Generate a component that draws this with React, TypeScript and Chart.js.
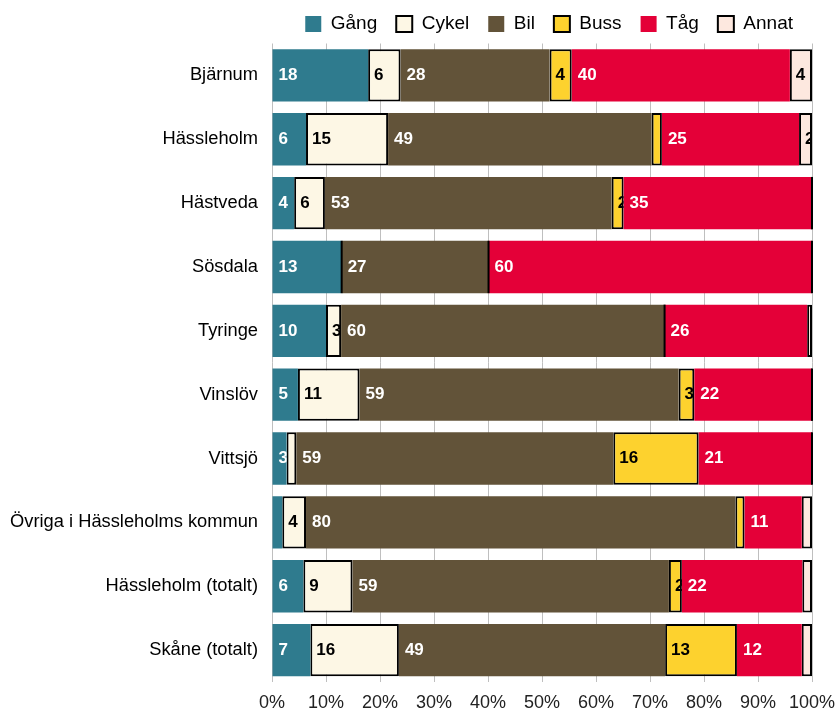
import React, { useEffect, useRef } from "react";
import { Chart, registerables } from "chart.js";

Chart.register(...registerables);

const categories = [
  "Bjärnum",
  "Hässleholm",
  "Hästveda",
  "Sösdala",
  "Tyringe",
  "Vinslöv",
  "Vittsjö",
  "Övriga i Hässleholms kommun",
  "Hässleholm (totalt)",
  "Skåne (totalt)",
];

const seriesNames = ["Gång", "Cykel", "Bil", "Buss", "Tåg", "Annat"];

const gang = [17.8, 6.3, 4.1, 12.9, 10.0, 4.8, 2.7, 1.9, 5.8, 7.1];
const cykel = [6.0, 15.2, 5.7, 0, 2.8, 11.4, 1.8, 4.4, 9.1, 16.4];
const bil = [27.6, 48.8, 53.1, 27.2, 59.9, 59.1, 58.7, 79.5, 58.6, 49.3];
const buss = [4.1, 1.9, 2.2, 0, 0, 2.9, 15.8, 1.7, 2.4, 13.3];
const tag = [40.4, 25.4, 34.9, 59.9, 26.4, 21.8, 21.0, 10.6, 22.3, 12.0];
const annat = [4.1, 2.4, 0, 0, 0.9, 0, 0, 1.9, 1.8, 1.9];

const xTickValues = [0, 10, 20, 30, 40, 50, 60, 70, 80, 90, 100];

const seriesValues = [gang, cykel, bil, buss, tag, annat];
const fillColors = ["#2F7B8E", "#FDF7E5", "#625339", "#FDD22E", "#E40038", "#FDE8DF"];
const lightSeries = [false, true, false, true, false, true];

const FONT = "'Liberation Sans', Arial, Helvetica, sans-serif";

const labelPlugin = {
  id: "segmentLabels",
  afterDatasetsDraw(chart: any) {
    const ctx = chart.ctx;
    chart.data.datasets.forEach((ds: any, di: number) => {
      const meta = chart.getDatasetMeta(di);
      const light = lightSeries[di];
      meta.data.forEach((el: any, i: number) => {
        const v = ds.data[i];
        const { x, y, base, height } = el.getProps(["x", "y", "base", "height"], true);
        if (v === 0) {
          if (light) {
            ctx.save();
            ctx.fillStyle = "#000";
            ctx.fillRect(x - 1, y - height / 2, 2, height);
            ctx.restore();
          }
          return;
        }
        if (v < 2) return;
        ctx.save();
        ctx.beginPath();
        const left = Math.min(x, base);
        const w = Math.abs(x - base);
        ctx.rect(left, y - height / 2, w, height);
        ctx.clip();
        ctx.font = `bold 17px ${FONT}`;
        ctx.fillStyle = light ? "#000" : "#fff";
        ctx.textAlign = "left";
        ctx.textBaseline = "middle";
        ctx.fillText(String(Math.round(v)), left + 6, y);
        ctx.restore();
      });
    });
  },
};

export default function App() {
  const ref = useRef<HTMLCanvasElement | null>(null);

  useEffect(() => {
    if (!ref.current) return;
    const chart = new Chart(ref.current, {
      type: "bar",
      data: {
        labels: categories,
        datasets: seriesNames.map((name, i) => ({
          label: name,
          data: seriesValues[i],
          backgroundColor: fillColors[i],
          borderColor: lightSeries[i] ? "#000" : fillColors[i],
          borderWidth: lightSeries[i] ? 2 : 0,
          borderSkipped: false,
          barPercentage: 0.82,
          categoryPercentage: 1,
        })),
      },
      options: {
        indexAxis: "y",
        responsive: false,
        animation: false,
        layout: { padding: { top: -4.5, right: 26, bottom: 0, left: 0 } },
        plugins: {
          legend: {
            position: "top",
            align: "end",
            labels: {
              boxWidth: 16,
              boxHeight: 16,
              padding: 19,
              color: "#000",
              font: { family: FONT, size: 19 },
            },
          },
          tooltip: { enabled: false },
        },
        scales: {
          x: {
            stacked: true,
            min: 0,
            max: 100,
            afterBuildTicks: (scale: any) => {
              scale.ticks = xTickValues.map((v) => ({ value: v }));
            },
            afterFit: (scale: any) => {
              scale.height = 31;
              scale.paddingLeft = 0;
              scale.paddingRight = 0;
            },
            grid: { color: "#BFBFBF", drawTicks: false, lineWidth: 1 },
            border: { display: false },
            ticks: {
              padding: 10,
              color: "#222",
              font: { family: FONT, size: 18 },
              callback: (v: any) => `${v}%`,
            },
          },
          y: {
            stacked: true,
            afterFit: (scale: any) => {
              scale.width = 272;
            },
            grid: { display: false, drawTicks: false },
            border: { display: false },
            ticks: {
              padding: 14,
              color: "#000",
              font: { family: FONT, size: 18.3 },
            },
          },
        },
      },
      plugins: [labelPlugin],
    } as any);
    return () => chart.destroy();
  }, []);

  return (
    <div style={{ position: "fixed", left: 0, top: 0, width: 838, height: 713, background: "#fff" }}>
      <canvas ref={ref} width={838} height={713} style={{ display: "block" }} />
    </div>
  );
}
